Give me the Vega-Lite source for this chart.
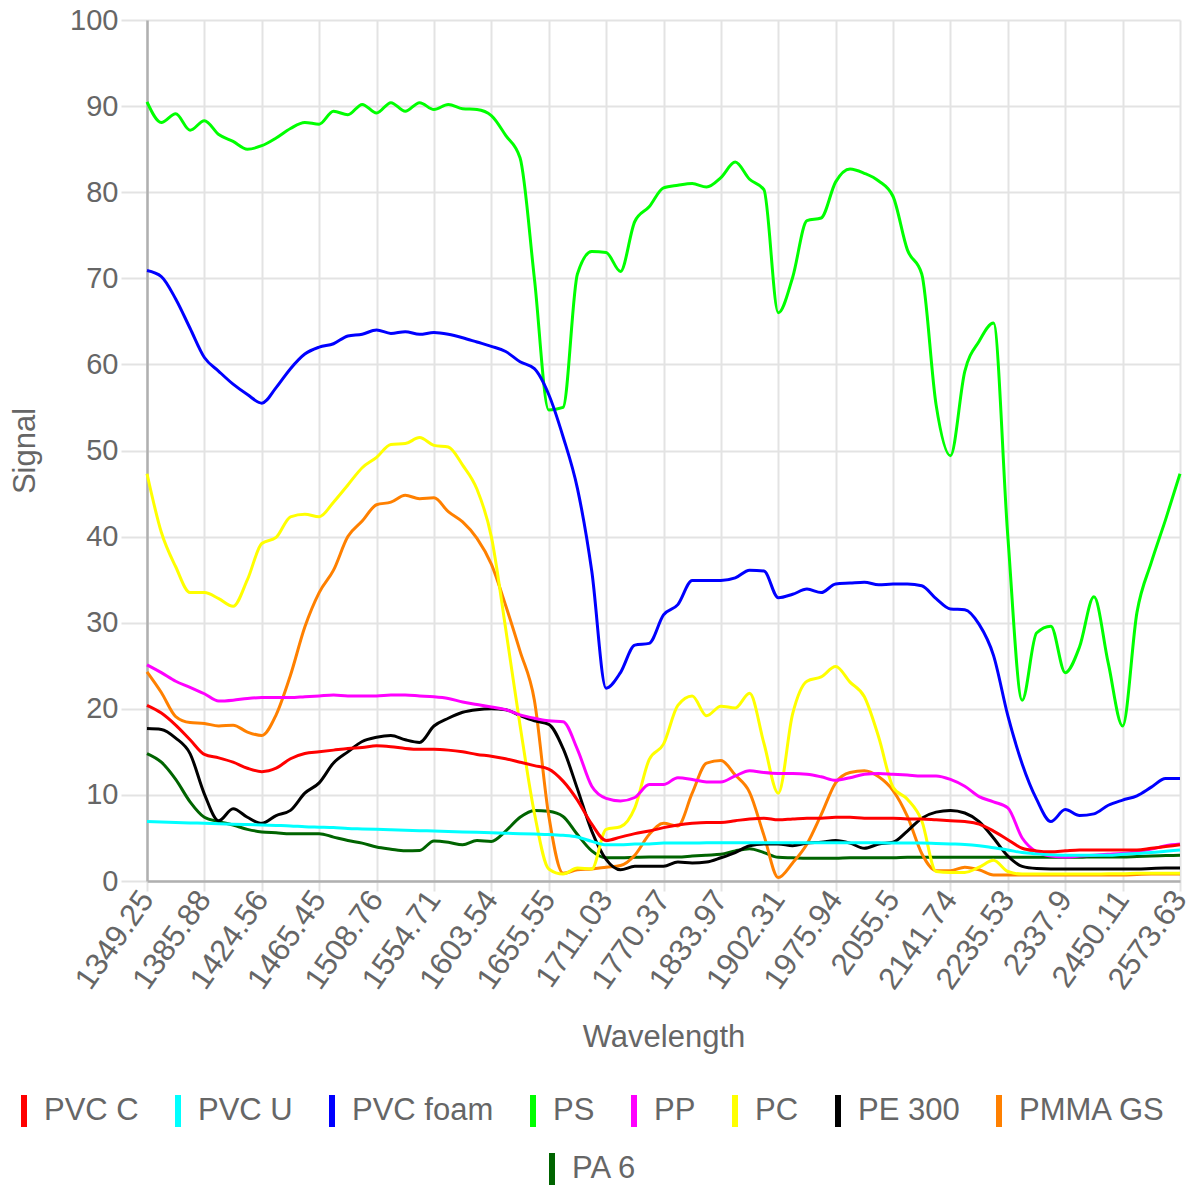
{
"$schema": "https://vega.github.io/schema/vega-lite/v6.json",
"width": 1033,
"height": 861,
"autosize": {"type": "none"},
"padding": {"left": 147, "top": 20, "right": 14, "bottom": 309},
"background": "white",
"config": {
  "view": {"stroke": null},
  "font": "Liberation Sans",
  "axis": {
    "labelFont": "Liberation Sans", "titleFont": "Liberation Sans",
    "labelColor": "#666666", "titleColor": "#666666", "titleFontWeight": "normal",
    "labelFontSize": 29, "titleFontSize": 31,
    "gridColor": "#e3e3e3", "gridWidth": 2, "tickColor": "#e3e3e3", "tickWidth": 2,
    "domainColor": "#b0b0b0", "domainWidth": 2.5
  }
},
"data": {"values": [
{"w":1349.25,"m":"PA 6","s":14.8},{"w":1358.22,"m":"PA 6","s":13.8},{"w":1367.32,"m":"PA 6","s":11.8},{"w":1376.54,"m":"PA 6","s":9.2},{"w":1385.88,"m":"PA 6","s":7.4},{"w":1395.35,"m":"PA 6","s":6.9},{"w":1404.95,"m":"PA 6","s":6.5},{"w":1414.68,"m":"PA 6","s":6.0},{"w":1424.56,"m":"PA 6","s":5.7},{"w":1434.56,"m":"PA 6","s":5.6},
{"w":1444.71,"m":"PA 6","s":5.5},{"w":1455,"m":"PA 6","s":5.5},{"w":1465.45,"m":"PA 6","s":5.5},{"w":1476.04,"m":"PA 6","s":5.1},{"w":1486.79,"m":"PA 6","s":4.7},{"w":1497.69,"m":"PA 6","s":4.4},{"w":1508.76,"m":"PA 6","s":3.95},{"w":1519.99,"m":"PA 6","s":3.7},{"w":1531.39,"m":"PA 6","s":3.5},{"w":1542.96,"m":"PA 6","s":3.55},
{"w":1554.71,"m":"PA 6","s":4.65},{"w":1566.63,"m":"PA 6","s":4.5},{"w":1578.74,"m":"PA 6","s":4.2},{"w":1591.05,"m":"PA 6","s":4.7},{"w":1603.54,"m":"PA 6","s":4.6},{"w":1616.23,"m":"PA 6","s":5.8},{"w":1629.13,"m":"PA 6","s":7.4},{"w":1642.23,"m":"PA 6","s":8.2},{"w":1655.55,"m":"PA 6","s":8.1},{"w":1669.07,"m":"PA 6","s":7.5},
{"w":1682.83,"m":"PA 6","s":5.4},{"w":1696.81,"m":"PA 6","s":3.5},{"w":1711.03,"m":"PA 6","s":2.7},{"w":1725.49,"m":"PA 6","s":2.7},{"w":1740.19,"m":"PA 6","s":2.75},{"w":1755.15,"m":"PA 6","s":2.8},{"w":1770.37,"m":"PA 6","s":2.8},{"w":1785.85,"m":"PA 6","s":2.8},{"w":1801.61,"m":"PA 6","s":2.9},{"w":1817.64,"m":"PA 6","s":3.0},
{"w":1833.97,"m":"PA 6","s":3.1},{"w":1850.59,"m":"PA 6","s":3.5},{"w":1867.51,"m":"PA 6","s":3.75},{"w":1884.75,"m":"PA 6","s":3.3},{"w":1902.31,"m":"PA 6","s":2.75},{"w":1920.2,"m":"PA 6","s":2.7},{"w":1938.43,"m":"PA 6","s":2.65},{"w":1956.81,"m":"PA 6","s":2.65},{"w":1975.94,"m":"PA 6","s":2.65},{"w":1995.25,"m":"PA 6","s":2.7},
{"w":2014.94,"m":"PA 6","s":2.7},{"w":2035.02,"m":"PA 6","s":2.7},{"w":2055.5,"m":"PA 6","s":2.7},{"w":2076.4,"m":"PA 6","s":2.75},{"w":2097.73,"m":"PA 6","s":2.75},{"w":2119.51,"m":"PA 6","s":2.75},{"w":2141.74,"m":"PA 6","s":2.75},{"w":2164.44,"m":"PA 6","s":2.75},{"w":2187.63,"m":"PA 6","s":2.75},{"w":2211.32,"m":"PA 6","s":2.75},
{"w":2235.53,"m":"PA 6","s":2.75},{"w":2260.27,"m":"PA 6","s":2.75},{"w":2285.57,"m":"PA 6","s":2.75},{"w":2311.44,"m":"PA 6","s":2.75},{"w":2337.9,"m":"PA 6","s":2.75},{"w":2364.98,"m":"PA 6","s":2.75},{"w":2392.69,"m":"PA 6","s":2.8},{"w":2421.06,"m":"PA 6","s":2.8},{"w":2450.11,"m":"PA 6","s":2.8},{"w":2479.87,"m":"PA 6","s":2.85},
{"w":2510.35,"m":"PA 6","s":2.9},{"w":2541.6,"m":"PA 6","s":2.95},{"w":2573.63,"m":"PA 6","s":3.0},

{"w":1349.25,"m":"PMMA GS","s":24.3},{"w":1358.22,"m":"PMMA GS","s":21.9},{"w":1367.32,"m":"PMMA GS","s":19.1},{"w":1376.54,"m":"PMMA GS","s":18.4},{"w":1385.88,"m":"PMMA GS","s":18.3},{"w":1395.35,"m":"PMMA GS","s":18.0},{"w":1404.95,"m":"PMMA GS","s":18.1},{"w":1414.68,"m":"PMMA GS","s":17.3},{"w":1424.56,"m":"PMMA GS","s":16.9},{"w":1434.56,"m":"PMMA GS","s":19.3},
{"w":1444.71,"m":"PMMA GS","s":23.9},{"w":1455,"m":"PMMA GS","s":29.5},{"w":1465.45,"m":"PMMA GS","s":33.5},{"w":1476.04,"m":"PMMA GS","s":36.1},{"w":1486.79,"m":"PMMA GS","s":40.0},{"w":1497.69,"m":"PMMA GS","s":41.8},{"w":1508.76,"m":"PMMA GS","s":43.7},{"w":1519.99,"m":"PMMA GS","s":44.0},{"w":1531.39,"m":"PMMA GS","s":44.8},{"w":1542.96,"m":"PMMA GS","s":44.4},
{"w":1554.71,"m":"PMMA GS","s":44.5},{"w":1566.63,"m":"PMMA GS","s":42.9},{"w":1578.74,"m":"PMMA GS","s":41.7},{"w":1591.05,"m":"PMMA GS","s":39.8},{"w":1603.54,"m":"PMMA GS","s":36.8},{"w":1616.23,"m":"PMMA GS","s":32.0},{"w":1629.13,"m":"PMMA GS","s":26.7},{"w":1642.23,"m":"PMMA GS","s":21.0},{"w":1655.55,"m":"PMMA GS","s":7.6},{"w":1669.07,"m":"PMMA GS","s":0.9},
{"w":1682.83,"m":"PMMA GS","s":1.3},{"w":1696.81,"m":"PMMA GS","s":1.4},{"w":1711.03,"m":"PMMA GS","s":1.6},{"w":1725.49,"m":"PMMA GS","s":1.8},{"w":1740.19,"m":"PMMA GS","s":3.0},{"w":1755.15,"m":"PMMA GS","s":5.4},{"w":1770.37,"m":"PMMA GS","s":6.7},{"w":1785.85,"m":"PMMA GS","s":6.4},{"w":1801.61,"m":"PMMA GS","s":10.2},{"w":1817.64,"m":"PMMA GS","s":13.7},
{"w":1833.97,"m":"PMMA GS","s":14.0},{"w":1850.59,"m":"PMMA GS","s":12.3},{"w":1867.51,"m":"PMMA GS","s":10.3},{"w":1884.75,"m":"PMMA GS","s":5.3},{"w":1902.31,"m":"PMMA GS","s":0.4},{"w":1920.2,"m":"PMMA GS","s":2.1},{"w":1938.43,"m":"PMMA GS","s":4.3},{"w":1956.81,"m":"PMMA GS","s":7.7},{"w":1975.94,"m":"PMMA GS","s":11.4},{"w":1995.25,"m":"PMMA GS","s":12.6},
{"w":2014.94,"m":"PMMA GS","s":12.8},{"w":2035.02,"m":"PMMA GS","s":12.1},{"w":2055.5,"m":"PMMA GS","s":10.5},{"w":2076.4,"m":"PMMA GS","s":7.5},{"w":2097.73,"m":"PMMA GS","s":3.2},{"w":2119.51,"m":"PMMA GS","s":1.2},{"w":2141.74,"m":"PMMA GS","s":1.2},{"w":2164.44,"m":"PMMA GS","s":1.6},{"w":2187.63,"m":"PMMA GS","s":1.3},{"w":2211.32,"m":"PMMA GS","s":0.7},
{"w":2235.53,"m":"PMMA GS","s":0.7},{"w":2260.27,"m":"PMMA GS","s":0.7},{"w":2285.57,"m":"PMMA GS","s":0.7},{"w":2311.44,"m":"PMMA GS","s":0.7},{"w":2337.9,"m":"PMMA GS","s":0.7},{"w":2364.98,"m":"PMMA GS","s":0.7},{"w":2392.69,"m":"PMMA GS","s":0.7},{"w":2421.06,"m":"PMMA GS","s":0.7},{"w":2450.11,"m":"PMMA GS","s":0.7},{"w":2479.87,"m":"PMMA GS","s":0.75},
{"w":2510.35,"m":"PMMA GS","s":0.8},{"w":2541.6,"m":"PMMA GS","s":0.8},{"w":2573.63,"m":"PMMA GS","s":0.8},

{"w":1349.25,"m":"PE 300","s":17.7},{"w":1358.22,"m":"PE 300","s":17.6},{"w":1367.32,"m":"PE 300","s":16.6},{"w":1376.54,"m":"PE 300","s":14.8},{"w":1385.88,"m":"PE 300","s":10.1},{"w":1395.35,"m":"PE 300","s":7.0},{"w":1404.95,"m":"PE 300","s":8.4},{"w":1414.68,"m":"PE 300","s":7.4},{"w":1424.56,"m":"PE 300","s":6.7},{"w":1434.56,"m":"PE 300","s":7.6},
{"w":1444.71,"m":"PE 300","s":8.2},{"w":1455,"m":"PE 300","s":10.2},{"w":1465.45,"m":"PE 300","s":11.4},{"w":1476.04,"m":"PE 300","s":13.7},{"w":1486.79,"m":"PE 300","s":15.0},{"w":1497.69,"m":"PE 300","s":16.2},{"w":1508.76,"m":"PE 300","s":16.7},{"w":1519.99,"m":"PE 300","s":16.9},{"w":1531.39,"m":"PE 300","s":16.4},{"w":1542.96,"m":"PE 300","s":16.1},
{"w":1554.71,"m":"PE 300","s":18.0},{"w":1566.63,"m":"PE 300","s":18.9},{"w":1578.74,"m":"PE 300","s":19.6},{"w":1591.05,"m":"PE 300","s":19.9},{"w":1603.54,"m":"PE 300","s":20.0},{"w":1616.23,"m":"PE 300","s":19.9},{"w":1629.13,"m":"PE 300","s":19.2},{"w":1642.23,"m":"PE 300","s":18.6},{"w":1655.55,"m":"PE 300","s":18.2},{"w":1669.07,"m":"PE 300","s":15.4},
{"w":1682.83,"m":"PE 300","s":10.7},{"w":1696.81,"m":"PE 300","s":5.8},{"w":1711.03,"m":"PE 300","s":2.5},{"w":1725.49,"m":"PE 300","s":1.3},{"w":1740.19,"m":"PE 300","s":1.7},{"w":1755.15,"m":"PE 300","s":1.7},{"w":1770.37,"m":"PE 300","s":1.7},{"w":1785.85,"m":"PE 300","s":2.2},{"w":1801.61,"m":"PE 300","s":2.1},{"w":1817.64,"m":"PE 300","s":2.2},
{"w":1833.97,"m":"PE 300","s":2.7},{"w":1850.59,"m":"PE 300","s":3.3},{"w":1867.51,"m":"PE 300","s":4.1},{"w":1884.75,"m":"PE 300","s":4.3},{"w":1902.31,"m":"PE 300","s":4.3},{"w":1920.2,"m":"PE 300","s":4.1},{"w":1938.43,"m":"PE 300","s":4.4},{"w":1956.81,"m":"PE 300","s":4.5},{"w":1975.94,"m":"PE 300","s":4.7},{"w":1995.25,"m":"PE 300","s":4.4},
{"w":2014.94,"m":"PE 300","s":3.8},{"w":2035.02,"m":"PE 300","s":4.3},{"w":2055.5,"m":"PE 300","s":4.5},{"w":2076.4,"m":"PE 300","s":5.8},{"w":2097.73,"m":"PE 300","s":7.3},{"w":2119.51,"m":"PE 300","s":8.0},{"w":2141.74,"m":"PE 300","s":8.2},{"w":2164.44,"m":"PE 300","s":7.9},{"w":2187.63,"m":"PE 300","s":6.9},{"w":2211.32,"m":"PE 300","s":5.0},
{"w":2235.53,"m":"PE 300","s":2.9},{"w":2260.27,"m":"PE 300","s":1.7},{"w":2285.57,"m":"PE 300","s":1.45},{"w":2311.44,"m":"PE 300","s":1.4},{"w":2337.9,"m":"PE 300","s":1.4},{"w":2364.98,"m":"PE 300","s":1.4},{"w":2392.69,"m":"PE 300","s":1.4},{"w":2421.06,"m":"PE 300","s":1.4},{"w":2450.11,"m":"PE 300","s":1.4},{"w":2479.87,"m":"PE 300","s":1.4},
{"w":2510.35,"m":"PE 300","s":1.45},{"w":2541.6,"m":"PE 300","s":1.5},{"w":2573.63,"m":"PE 300","s":1.5},

{"w":1349.25,"m":"PC","s":47.3},{"w":1358.22,"m":"PC","s":40.5},{"w":1367.32,"m":"PC","s":36.5},{"w":1376.54,"m":"PC","s":33.5},{"w":1385.88,"m":"PC","s":33.5},{"w":1395.35,"m":"PC","s":32.8},{"w":1404.95,"m":"PC","s":31.9},{"w":1414.68,"m":"PC","s":35.0},{"w":1424.56,"m":"PC","s":39.2},{"w":1434.56,"m":"PC","s":39.9},
{"w":1444.71,"m":"PC","s":42.3},{"w":1455,"m":"PC","s":42.6},{"w":1465.45,"m":"PC","s":42.3},{"w":1476.04,"m":"PC","s":44.0},{"w":1486.79,"m":"PC","s":46.0},{"w":1497.69,"m":"PC","s":48.0},{"w":1508.76,"m":"PC","s":49.2},{"w":1519.99,"m":"PC","s":50.7},{"w":1531.39,"m":"PC","s":50.8},{"w":1542.96,"m":"PC","s":51.5},
{"w":1554.71,"m":"PC","s":50.6},{"w":1566.63,"m":"PC","s":50.4},{"w":1578.74,"m":"PC","s":48.3},{"w":1591.05,"m":"PC","s":45.5},{"w":1603.54,"m":"PC","s":40.0},{"w":1616.23,"m":"PC","s":29.3},{"w":1629.13,"m":"PC","s":18.1},{"w":1642.23,"m":"PC","s":7.9},{"w":1655.55,"m":"PC","s":1.4},{"w":1669.07,"m":"PC","s":0.8},
{"w":1682.83,"m":"PC","s":1.5},{"w":1696.81,"m":"PC","s":1.4},{"w":1711.03,"m":"PC","s":6.0},{"w":1725.49,"m":"PC","s":6.3},{"w":1740.19,"m":"PC","s":8.5},{"w":1755.15,"m":"PC","s":14.1},{"w":1770.37,"m":"PC","s":15.9},{"w":1785.85,"m":"PC","s":20.4},{"w":1801.61,"m":"PC","s":21.5},{"w":1817.64,"m":"PC","s":19.2},
{"w":1833.97,"m":"PC","s":20.3},{"w":1850.59,"m":"PC","s":20.1},{"w":1867.51,"m":"PC","s":21.8},{"w":1884.75,"m":"PC","s":16.0},{"w":1902.31,"m":"PC","s":10.2},{"w":1920.2,"m":"PC","s":19.4},{"w":1938.43,"m":"PC","s":23.2},{"w":1956.81,"m":"PC","s":23.7},{"w":1975.94,"m":"PC","s":24.9},{"w":1995.25,"m":"PC","s":23.1},
{"w":2014.94,"m":"PC","s":21.4},{"w":2035.02,"m":"PC","s":16.7},{"w":2055.5,"m":"PC","s":10.9},{"w":2076.4,"m":"PC","s":9.5},{"w":2097.73,"m":"PC","s":7.0},{"w":2119.51,"m":"PC","s":1.1},{"w":2141.74,"m":"PC","s":1.0},{"w":2164.44,"m":"PC","s":1.0},{"w":2187.63,"m":"PC","s":1.6},{"w":2211.32,"m":"PC","s":2.4},
{"w":2235.53,"m":"PC","s":1.1},{"w":2260.27,"m":"PC","s":0.8},{"w":2285.57,"m":"PC","s":0.8},{"w":2311.44,"m":"PC","s":0.8},{"w":2337.9,"m":"PC","s":0.8},{"w":2364.98,"m":"PC","s":0.8},{"w":2392.69,"m":"PC","s":0.8},{"w":2421.06,"m":"PC","s":0.85},{"w":2450.11,"m":"PC","s":0.85},{"w":2479.87,"m":"PC","s":0.9},
{"w":2510.35,"m":"PC","s":0.9},{"w":2541.6,"m":"PC","s":0.9},{"w":2573.63,"m":"PC","s":0.9},

{"w":1349.25,"m":"PP","s":25.1},{"w":1358.22,"m":"PP","s":24.2},{"w":1367.32,"m":"PP","s":23.2},{"w":1376.54,"m":"PP","s":22.5},{"w":1385.88,"m":"PP","s":21.75},{"w":1395.35,"m":"PP","s":20.9},{"w":1404.95,"m":"PP","s":21.0},{"w":1414.68,"m":"PP","s":21.2},{"w":1424.56,"m":"PP","s":21.3},{"w":1434.56,"m":"PP","s":21.3},
{"w":1444.71,"m":"PP","s":21.3},{"w":1455,"m":"PP","s":21.4},{"w":1465.45,"m":"PP","s":21.5},{"w":1476.04,"m":"PP","s":21.6},{"w":1486.79,"m":"PP","s":21.5},{"w":1497.69,"m":"PP","s":21.5},{"w":1508.76,"m":"PP","s":21.5},{"w":1519.99,"m":"PP","s":21.6},{"w":1531.39,"m":"PP","s":21.6},{"w":1542.96,"m":"PP","s":21.5},
{"w":1554.71,"m":"PP","s":21.4},{"w":1566.63,"m":"PP","s":21.2},{"w":1578.74,"m":"PP","s":20.8},{"w":1591.05,"m":"PP","s":20.5},{"w":1603.54,"m":"PP","s":20.2},{"w":1616.23,"m":"PP","s":19.9},{"w":1629.13,"m":"PP","s":19.3},{"w":1642.23,"m":"PP","s":18.9},{"w":1655.55,"m":"PP","s":18.6},{"w":1669.07,"m":"PP","s":18.5},
{"w":1682.83,"m":"PP","s":15.3},{"w":1696.81,"m":"PP","s":11.0},{"w":1711.03,"m":"PP","s":9.6},{"w":1725.49,"m":"PP","s":9.3},{"w":1740.19,"m":"PP","s":9.7},{"w":1755.15,"m":"PP","s":11.2},{"w":1770.37,"m":"PP","s":11.2},{"w":1785.85,"m":"PP","s":12.0},{"w":1801.61,"m":"PP","s":11.8},{"w":1817.64,"m":"PP","s":11.5},
{"w":1833.97,"m":"PP","s":11.5},{"w":1850.59,"m":"PP","s":12.2},{"w":1867.51,"m":"PP","s":12.8},{"w":1884.75,"m":"PP","s":12.6},{"w":1902.31,"m":"PP","s":12.5},{"w":1920.2,"m":"PP","s":12.5},{"w":1938.43,"m":"PP","s":12.4},{"w":1956.81,"m":"PP","s":12.1},{"w":1975.94,"m":"PP","s":11.7},{"w":1995.25,"m":"PP","s":12.0},
{"w":2014.94,"m":"PP","s":12.4},{"w":2035.02,"m":"PP","s":12.5},{"w":2055.5,"m":"PP","s":12.4},{"w":2076.4,"m":"PP","s":12.3},{"w":2097.73,"m":"PP","s":12.2},{"w":2119.51,"m":"PP","s":12.2},{"w":2141.74,"m":"PP","s":11.8},{"w":2164.44,"m":"PP","s":11.0},{"w":2187.63,"m":"PP","s":9.8},{"w":2211.32,"m":"PP","s":9.2},
{"w":2235.53,"m":"PP","s":8.5},{"w":2260.27,"m":"PP","s":5.0},{"w":2285.57,"m":"PP","s":3.4},{"w":2311.44,"m":"PP","s":2.9},{"w":2337.9,"m":"PP","s":2.8},{"w":2364.98,"m":"PP","s":2.9},{"w":2392.69,"m":"PP","s":3.0},{"w":2421.06,"m":"PP","s":3.1},{"w":2450.11,"m":"PP","s":3.2},{"w":2479.87,"m":"PP","s":3.4},
{"w":2510.35,"m":"PP","s":3.7},{"w":2541.6,"m":"PP","s":4.1},{"w":2573.63,"m":"PP","s":4.3},

{"w":1349.25,"m":"PS","s":90.5},{"w":1358.22,"m":"PS","s":88.1},{"w":1367.32,"m":"PS","s":89.1},{"w":1376.54,"m":"PS","s":87.2},{"w":1385.88,"m":"PS","s":88.3},{"w":1395.35,"m":"PS","s":86.7},{"w":1404.95,"m":"PS","s":85.9},{"w":1414.68,"m":"PS","s":85.0},{"w":1424.56,"m":"PS","s":85.4},{"w":1434.56,"m":"PS","s":86.3},
{"w":1444.71,"m":"PS","s":87.4},{"w":1455,"m":"PS","s":88.1},{"w":1465.45,"m":"PS","s":87.9},{"w":1476.04,"m":"PS","s":89.4},{"w":1486.79,"m":"PS","s":89.0},{"w":1497.69,"m":"PS","s":90.2},{"w":1508.76,"m":"PS","s":89.2},{"w":1519.99,"m":"PS","s":90.4},{"w":1531.39,"m":"PS","s":89.4},{"w":1542.96,"m":"PS","s":90.4},
{"w":1554.71,"m":"PS","s":89.6},{"w":1566.63,"m":"PS","s":90.2},{"w":1578.74,"m":"PS","s":89.7},{"w":1591.05,"m":"PS","s":89.6},{"w":1603.54,"m":"PS","s":88.9},{"w":1616.23,"m":"PS","s":86.6},{"w":1629.13,"m":"PS","s":84.0},{"w":1642.23,"m":"PS","s":70.0},{"w":1655.55,"m":"PS","s":54.7},{"w":1669.07,"m":"PS","s":55.0},
{"w":1682.83,"m":"PS","s":70.5},{"w":1696.81,"m":"PS","s":73.1},{"w":1711.03,"m":"PS","s":73.0},{"w":1725.49,"m":"PS","s":70.8},{"w":1740.19,"m":"PS","s":76.6},{"w":1755.15,"m":"PS","s":78.3},{"w":1770.37,"m":"PS","s":80.5},{"w":1785.85,"m":"PS","s":80.8},{"w":1801.61,"m":"PS","s":81.0},{"w":1817.64,"m":"PS","s":80.6},
{"w":1833.97,"m":"PS","s":81.7},{"w":1850.59,"m":"PS","s":83.5},{"w":1867.51,"m":"PS","s":81.5},{"w":1884.75,"m":"PS","s":80.3},{"w":1902.31,"m":"PS","s":66.0},{"w":1920.2,"m":"PS","s":70.1},{"w":1938.43,"m":"PS","s":76.7},{"w":1956.81,"m":"PS","s":77.0},{"w":1975.94,"m":"PS","s":81.2},{"w":1995.25,"m":"PS","s":82.7},
{"w":2014.94,"m":"PS","s":82.2},{"w":2035.02,"m":"PS","s":81.3},{"w":2055.5,"m":"PS","s":79.5},{"w":2076.4,"m":"PS","s":73.3},{"w":2097.73,"m":"PS","s":70.5},{"w":2119.51,"m":"PS","s":55.3},{"w":2141.74,"m":"PS","s":49.4},{"w":2164.44,"m":"PS","s":59.2},{"w":2187.63,"m":"PS","s":62.7},{"w":2211.32,"m":"PS","s":64.8},
{"w":2235.53,"m":"PS","s":40.0},{"w":2260.27,"m":"PS","s":21.0},{"w":2285.57,"m":"PS","s":28.8},{"w":2311.44,"m":"PS","s":29.6},{"w":2337.9,"m":"PS","s":24.2},{"w":2364.98,"m":"PS","s":27.2},{"w":2392.69,"m":"PS","s":33.0},{"w":2421.06,"m":"PS","s":25.3},{"w":2450.11,"m":"PS","s":18.0},{"w":2479.87,"m":"PS","s":31.2},
{"w":2510.35,"m":"PS","s":37.0},{"w":2541.6,"m":"PS","s":42.0},{"w":2573.63,"m":"PS","s":47.3},

{"w":1349.25,"m":"PVC foam","s":70.9},{"w":1358.22,"m":"PVC foam","s":70.2},{"w":1367.32,"m":"PVC foam","s":67.6},{"w":1376.54,"m":"PVC foam","s":64.2},{"w":1385.88,"m":"PVC foam","s":60.8},{"w":1395.35,"m":"PVC foam","s":59.2},{"w":1404.95,"m":"PVC foam","s":57.7},{"w":1414.68,"m":"PVC foam","s":56.5},{"w":1424.56,"m":"PVC foam","s":55.5},{"w":1434.56,"m":"PVC foam","s":57.3},
{"w":1444.71,"m":"PVC foam","s":59.5},{"w":1455,"m":"PVC foam","s":61.2},{"w":1465.45,"m":"PVC foam","s":62.0},{"w":1476.04,"m":"PVC foam","s":62.4},{"w":1486.79,"m":"PVC foam","s":63.3},{"w":1497.69,"m":"PVC foam","s":63.5},{"w":1508.76,"m":"PVC foam","s":64.0},{"w":1519.99,"m":"PVC foam","s":63.6},{"w":1531.39,"m":"PVC foam","s":63.8},{"w":1542.96,"m":"PVC foam","s":63.5},
{"w":1554.71,"m":"PVC foam","s":63.7},{"w":1566.63,"m":"PVC foam","s":63.5},{"w":1578.74,"m":"PVC foam","s":63.1},{"w":1591.05,"m":"PVC foam","s":62.6},{"w":1603.54,"m":"PVC foam","s":62.1},{"w":1616.23,"m":"PVC foam","s":61.5},{"w":1629.13,"m":"PVC foam","s":60.3},{"w":1642.23,"m":"PVC foam","s":59.5},{"w":1655.55,"m":"PVC foam","s":56.5},{"w":1669.07,"m":"PVC foam","s":51.6},
{"w":1682.83,"m":"PVC foam","s":45.6},{"w":1696.81,"m":"PVC foam","s":36.0},{"w":1711.03,"m":"PVC foam","s":22.4},{"w":1725.49,"m":"PVC foam","s":24.2},{"w":1740.19,"m":"PVC foam","s":27.4},{"w":1755.15,"m":"PVC foam","s":27.6},{"w":1770.37,"m":"PVC foam","s":30.9},{"w":1785.85,"m":"PVC foam","s":32.1},{"w":1801.61,"m":"PVC foam","s":34.9},{"w":1817.64,"m":"PVC foam","s":34.9},
{"w":1833.97,"m":"PVC foam","s":34.9},{"w":1850.59,"m":"PVC foam","s":35.2},{"w":1867.51,"m":"PVC foam","s":36.1},{"w":1884.75,"m":"PVC foam","s":36.0},{"w":1902.31,"m":"PVC foam","s":32.9},{"w":1920.2,"m":"PVC foam","s":33.3},{"w":1938.43,"m":"PVC foam","s":33.9},{"w":1956.81,"m":"PVC foam","s":33.5},{"w":1975.94,"m":"PVC foam","s":34.5},{"w":1995.25,"m":"PVC foam","s":34.6},
{"w":2014.94,"m":"PVC foam","s":34.7},{"w":2035.02,"m":"PVC foam","s":34.4},{"w":2055.5,"m":"PVC foam","s":34.5},{"w":2076.4,"m":"PVC foam","s":34.5},{"w":2097.73,"m":"PVC foam","s":34.3},{"w":2119.51,"m":"PVC foam","s":32.8},{"w":2141.74,"m":"PVC foam","s":31.6},{"w":2164.44,"m":"PVC foam","s":31.5},{"w":2187.63,"m":"PVC foam","s":29.8},{"w":2211.32,"m":"PVC foam","s":26.2},
{"w":2235.53,"m":"PVC foam","s":19.2},{"w":2260.27,"m":"PVC foam","s":13.6},{"w":2285.57,"m":"PVC foam","s":9.5},{"w":2311.44,"m":"PVC foam","s":6.9},{"w":2337.9,"m":"PVC foam","s":8.3},{"w":2364.98,"m":"PVC foam","s":7.6},{"w":2392.69,"m":"PVC foam","s":7.8},{"w":2421.06,"m":"PVC foam","s":8.8},{"w":2450.11,"m":"PVC foam","s":9.4},{"w":2479.87,"m":"PVC foam","s":9.9},
{"w":2510.35,"m":"PVC foam","s":10.9},{"w":2541.6,"m":"PVC foam","s":11.9},{"w":2573.63,"m":"PVC foam","s":11.9},

{"w":1349.25,"m":"PVC U","s":6.9},{"w":1358.22,"m":"PVC U","s":6.85},{"w":1367.32,"m":"PVC U","s":6.8},{"w":1376.54,"m":"PVC U","s":6.75},{"w":1385.88,"m":"PVC U","s":6.7},{"w":1395.35,"m":"PVC U","s":6.65},{"w":1404.95,"m":"PVC U","s":6.6},{"w":1414.68,"m":"PVC U","s":6.55},{"w":1424.56,"m":"PVC U","s":6.5},{"w":1434.56,"m":"PVC U","s":6.45},
{"w":1444.71,"m":"PVC U","s":6.4},{"w":1455,"m":"PVC U","s":6.3},{"w":1465.45,"m":"PVC U","s":6.25},{"w":1476.04,"m":"PVC U","s":6.2},{"w":1486.79,"m":"PVC U","s":6.1},{"w":1497.69,"m":"PVC U","s":6.05},{"w":1508.76,"m":"PVC U","s":6.0},{"w":1519.99,"m":"PVC U","s":5.95},{"w":1531.39,"m":"PVC U","s":5.9},{"w":1542.96,"m":"PVC U","s":5.85},
{"w":1554.71,"m":"PVC U","s":5.8},{"w":1566.63,"m":"PVC U","s":5.75},{"w":1578.74,"m":"PVC U","s":5.7},{"w":1591.05,"m":"PVC U","s":5.65},{"w":1603.54,"m":"PVC U","s":5.6},{"w":1616.23,"m":"PVC U","s":5.55},{"w":1629.13,"m":"PVC U","s":5.5},{"w":1642.23,"m":"PVC U","s":5.45},{"w":1655.55,"m":"PVC U","s":5.4},{"w":1669.07,"m":"PVC U","s":5.3},
{"w":1682.83,"m":"PVC U","s":5.1},{"w":1696.81,"m":"PVC U","s":4.6},{"w":1711.03,"m":"PVC U","s":4.2},{"w":1725.49,"m":"PVC U","s":4.2},{"w":1740.19,"m":"PVC U","s":4.3},{"w":1755.15,"m":"PVC U","s":4.3},{"w":1770.37,"m":"PVC U","s":4.4},{"w":1785.85,"m":"PVC U","s":4.4},{"w":1801.61,"m":"PVC U","s":4.4},{"w":1817.64,"m":"PVC U","s":4.45},
{"w":1833.97,"m":"PVC U","s":4.45},{"w":1850.59,"m":"PVC U","s":4.45},{"w":1867.51,"m":"PVC U","s":4.45},{"w":1884.75,"m":"PVC U","s":4.45},{"w":1902.31,"m":"PVC U","s":4.45},{"w":1920.2,"m":"PVC U","s":4.45},{"w":1938.43,"m":"PVC U","s":4.45},{"w":1956.81,"m":"PVC U","s":4.45},{"w":1975.94,"m":"PVC U","s":4.45},{"w":1995.25,"m":"PVC U","s":4.45},
{"w":2014.94,"m":"PVC U","s":4.45},{"w":2035.02,"m":"PVC U","s":4.45},{"w":2055.5,"m":"PVC U","s":4.4},{"w":2076.4,"m":"PVC U","s":4.4},{"w":2097.73,"m":"PVC U","s":4.4},{"w":2119.51,"m":"PVC U","s":4.35},{"w":2141.74,"m":"PVC U","s":4.3},{"w":2164.44,"m":"PVC U","s":4.25},{"w":2187.63,"m":"PVC U","s":4.1},{"w":2211.32,"m":"PVC U","s":3.85},
{"w":2235.53,"m":"PVC U","s":3.6},{"w":2260.27,"m":"PVC U","s":3.3},{"w":2285.57,"m":"PVC U","s":3.15},{"w":2311.44,"m":"PVC U","s":3.05},{"w":2337.9,"m":"PVC U","s":3.0},{"w":2364.98,"m":"PVC U","s":3.0},{"w":2392.69,"m":"PVC U","s":3.0},{"w":2421.06,"m":"PVC U","s":3.0},{"w":2450.11,"m":"PVC U","s":3.1},{"w":2479.87,"m":"PVC U","s":3.2},
{"w":2510.35,"m":"PVC U","s":3.3},{"w":2541.6,"m":"PVC U","s":3.45},{"w":2573.63,"m":"PVC U","s":3.6},

{"w":1349.25,"m":"PVC C","s":20.4},{"w":1358.22,"m":"PVC C","s":19.5},{"w":1367.32,"m":"PVC C","s":18.1},{"w":1376.54,"m":"PVC C","s":16.4},{"w":1385.88,"m":"PVC C","s":14.7},{"w":1395.35,"m":"PVC C","s":14.3},{"w":1404.95,"m":"PVC C","s":13.8},{"w":1414.68,"m":"PVC C","s":13.1},{"w":1424.56,"m":"PVC C","s":12.7},{"w":1434.56,"m":"PVC C","s":13.1},
{"w":1444.71,"m":"PVC C","s":14.2},{"w":1455,"m":"PVC C","s":14.8},{"w":1465.45,"m":"PVC C","s":15.0},{"w":1476.04,"m":"PVC C","s":15.2},{"w":1486.79,"m":"PVC C","s":15.4},{"w":1497.69,"m":"PVC C","s":15.5},{"w":1508.76,"m":"PVC C","s":15.7},{"w":1519.99,"m":"PVC C","s":15.6},{"w":1531.39,"m":"PVC C","s":15.4},{"w":1542.96,"m":"PVC C","s":15.3},
{"w":1554.71,"m":"PVC C","s":15.3},{"w":1566.63,"m":"PVC C","s":15.2},{"w":1578.74,"m":"PVC C","s":15.0},{"w":1591.05,"m":"PVC C","s":14.7},{"w":1603.54,"m":"PVC C","s":14.5},{"w":1616.23,"m":"PVC C","s":14.2},{"w":1629.13,"m":"PVC C","s":13.8},{"w":1642.23,"m":"PVC C","s":13.4},{"w":1655.55,"m":"PVC C","s":13.0},{"w":1669.07,"m":"PVC C","s":11.6},
{"w":1682.83,"m":"PVC C","s":9.4},{"w":1696.81,"m":"PVC C","s":6.6},{"w":1711.03,"m":"PVC C","s":4.7},{"w":1725.49,"m":"PVC C","s":5.1},{"w":1740.19,"m":"PVC C","s":5.5},{"w":1755.15,"m":"PVC C","s":5.8},{"w":1770.37,"m":"PVC C","s":6.2},{"w":1785.85,"m":"PVC C","s":6.5},{"w":1801.61,"m":"PVC C","s":6.7},{"w":1817.64,"m":"PVC C","s":6.8},
{"w":1833.97,"m":"PVC C","s":6.8},{"w":1850.59,"m":"PVC C","s":7.0},{"w":1867.51,"m":"PVC C","s":7.2},{"w":1884.75,"m":"PVC C","s":7.3},{"w":1902.31,"m":"PVC C","s":7.1},{"w":1920.2,"m":"PVC C","s":7.2},{"w":1938.43,"m":"PVC C","s":7.3},{"w":1956.81,"m":"PVC C","s":7.3},{"w":1975.94,"m":"PVC C","s":7.4},{"w":1995.25,"m":"PVC C","s":7.4},
{"w":2014.94,"m":"PVC C","s":7.3},{"w":2035.02,"m":"PVC C","s":7.3},{"w":2055.5,"m":"PVC C","s":7.3},{"w":2076.4,"m":"PVC C","s":7.2},{"w":2097.73,"m":"PVC C","s":7.2},{"w":2119.51,"m":"PVC C","s":7.1},{"w":2141.74,"m":"PVC C","s":7.0},{"w":2164.44,"m":"PVC C","s":6.9},{"w":2187.63,"m":"PVC C","s":6.6},{"w":2211.32,"m":"PVC C","s":5.8},
{"w":2235.53,"m":"PVC C","s":4.8},{"w":2260.27,"m":"PVC C","s":3.8},{"w":2285.57,"m":"PVC C","s":3.5},{"w":2311.44,"m":"PVC C","s":3.4},{"w":2337.9,"m":"PVC C","s":3.5},{"w":2364.98,"m":"PVC C","s":3.6},{"w":2392.69,"m":"PVC C","s":3.6},{"w":2421.06,"m":"PVC C","s":3.6},{"w":2450.11,"m":"PVC C","s":3.6},{"w":2479.87,"m":"PVC C","s":3.6},
{"w":2510.35,"m":"PVC C","s":3.8},{"w":2541.6,"m":"PVC C","s":4.0},{"w":2573.63,"m":"PVC C","s":4.2}
]},
"encoding": {
  "x": {"field": "w", "type": "quantitative",
    "scale": {"type": "pow", "exponent": -1, "domain": [1349.25, 2573.63], "nice": false, "zero": false},
    "axis": {"title": "Wavelength",
      "values": [1349.25,1385.88,1424.56,1465.45,1508.76,1554.71,1603.54,1655.55,1711.03,1770.37,1833.97,1902.31,1975.94,2055.5,2141.74,2235.53,2337.9,2450.11,2573.63],
      "labelExpr": "'' + datum.value", "labelAngle": -55, "labelAlign": "right", "labelBaseline": "middle",
      "labelFontSize": 31,
      "tickSize": 10, "labelPadding": 3, "titlePadding": 28,
      "labelFlush": false, "labelOverlap": false, "labelBound": false}},
  "y": {"field": "s", "type": "quantitative",
    "scale": {"domain": [0, 100], "nice": false},
    "axis": {"title": "Signal", "values": [0,10,20,30,40,50,60,70,80,90,100],
      "tickSize": 26, "labelPadding": 3, "titlePadding": 28}}
},
"layer": [
  {"transform": [{"filter": "datum.m === 'PA 6'"}],
   "mark": {"type": "line", "strokeWidth": 3, "interpolate": "monotone"},
   "encoding": {"stroke": {"field": "m", "type": "nominal",
     "scale": {"domain": ["PA 6"], "range": ["#006400"]},
     "legend": {"title": null, "orient": "none", "legendX": 386, "legendY": 1130, "direction": "horizontal",
       "symbolType": "M0,-1L0,1", "symbolSize": 1024, "symbolStrokeWidth": 6,
       "labelFontSize": 31, "labelColor": "#666666", "labelFont": "Liberation Sans",
       "labelOffset": 1, "columnPadding": 20, "labelLimit": 400, "padding": 0}}}},
  {"transform": [{"filter": "datum.m !== 'PA 6'"}],
   "mark": {"type": "line", "strokeWidth": 3, "interpolate": "monotone"},
   "encoding": {"color": {"field": "m", "type": "nominal",
     "scale": {"domain": ["PVC C","PVC U","PVC foam","PS","PP","PC","PE 300","PMMA GS"],
               "range": ["#ff0000","#00ffff","#0000ff","#00ff00","#ff00ff","#ffff00","#000000","#ff8000"]},
     "legend": {"title": null, "orient": "none", "legendX": -142, "legendY": 1072, "direction": "horizontal",
       "symbolType": "M0,-1L0,1", "symbolSize": 1024, "symbolStrokeWidth": 6,
       "labelFontSize": 31, "labelColor": "#666666", "labelFont": "Liberation Sans",
       "labelOffset": 1, "columnPadding": 20, "labelLimit": 400, "padding": 0}}}}
]
}
